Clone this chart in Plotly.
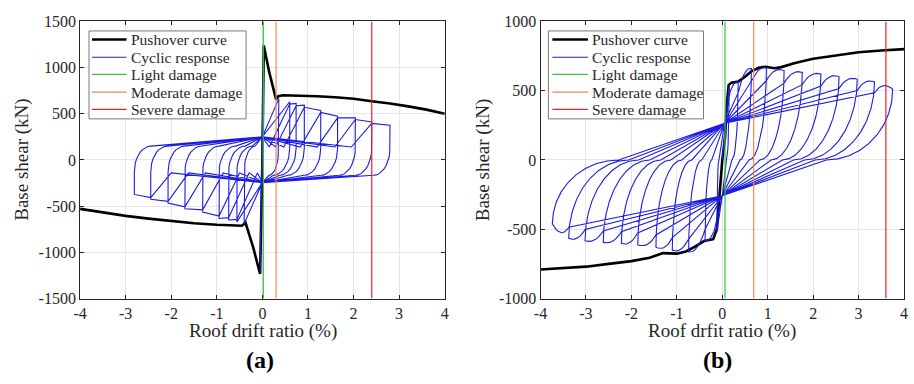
import numpy as np
import plotly.graph_objects as go

# ---------------- data ----------------
# (a) pushover curve
push_a_x = [-4.0, -3.5, -3.0, -2.5, -2.0, -1.5, -1.0, -0.55, -0.45, -0.37, -0.2, -0.05, 0.0,
            0.03, 0.15, 0.30, 0.35, 0.45, 0.8, 1.2, 1.6, 2.0, 2.4, 2.8, 3.2, 3.6, 4.0]
push_a_y = [-529, -570, -605, -635, -661, -685, -702, -716, -712, -680, -950, -1234, 0,
            1240, 950, 656, 690, 700, 698, 690, 678, 662, 635, 612, 580, 545, 500]
# (a) cyclic peaks
cyc_a_pos_x = [0.02, 0.03, 0.36, 0.60, 0.74, 0.92, 1.28, 1.65, 2.04, 2.40, 2.80]
cyc_a_pos_f = [700, 1240, 664, 630, 612, 594, 536, 474, 456, 412, 375]
cyc_a_neg_x = [-0.02, -0.05, -0.40, -0.56, -0.74, -0.95, -1.31, -1.70, -2.07, -2.45, -2.81]
cyc_a_neg_f = [-700, -1230, -690, -670, -650, -633, -563, -529, -467, -425, -373]
dmg_a = [0.02, 0.30, 2.40]

# (b) pushover curve
push_b_x = [-4.0, -3.5, -3.0, -2.5, -2.0, -1.6, -1.3, -1.0, -0.8, -0.6, -0.4, -0.2, -0.12, -0.06, 0.0,
            0.06, 0.10, 0.14, 0.2, 0.35, 0.5, 0.64, 0.8, 0.95, 1.15, 1.3, 1.6, 2.0, 2.5, 3.0, 3.5, 4.0]
push_b_y = [-790, -782, -770, -750, -730, -705, -672, -676, -660, -625, -585, -572, -500, -250, 0,
            160, 400, 540, 558, 565, 600, 640, 665, 673, 662, 670, 700, 730, 755, 777, 790, 800]
# (b) cyclic peaks
cyc_b_pos_x = [0.15, 0.35, 0.64, 0.97, 1.36, 1.76, 2.17, 2.57, 2.97, 3.35, 3.75]
cyc_b_pos_f = [540, 565, 660, 665, 645, 632, 620, 600, 582, 563, 510]
cyc_b_neg_x = [-0.12, -0.38, -0.74, -1.10, -1.46, -1.86, -2.22, -2.62, -3.02, -3.38, -3.74]
cyc_b_neg_f = [-520, -583, -664, -652, -629, -613, -602, -595, -583, -565, -461]
dmg_b = [0.06, 0.69, 3.60]

x_ticks = [-4, -3, -2, -1, 0, 1, 2, 3, 4]
x_ticktext = ["-4", "-3", "-2", "-1", "0", "1", "2", "3", "4"]
y_ticks_a = [-1500, -1000, -500, 0, 500, 1000, 1500]
y_ticktext_a = ["-1500", "-1000", "-500", "0", "500", "1000", "1500"]
y_ticks_b = [-1000, -500, 0, 500, 1000]
y_ticktext_b = ["-1000", "-500", "0", "500", "1000"]

legend_names = ["Pushover curve", "Cyclic response", "Light damage", "Moderate damage", "Severe damage"]

# ---------------- path helpers ----------------
def quarter(p0, p1, n=10):
    t = np.linspace(0, np.pi / 2, n)
    xs = p0[0] + (p1[0] - p0[0]) * (1 - np.cos(t))
    ys = p0[1] + (p1[1] - p0[1]) * np.sin(t)
    return list(zip(xs, ys))


def qbez(p0, c, p1, n=10):
    t = np.linspace(0, 1, n)
    xs = (1 - t) ** 2 * p0[0] + 2 * (1 - t) * t * c[0] + t ** 2 * p1[0]
    ys = (1 - t) ** 2 * p0[1] + 2 * (1 - t) * t * c[1] + t ** 2 * p1[1]
    return list(zip(xs, ys))


def cyclic_a():
    pts = [(0.0, 0.0)]
    n = len(cyc_a_pos_x)
    for i in range(n):
        xp, fp = cyc_a_pos_x[i], cyc_a_pos_f[i]
        xn, fn = cyc_a_neg_x[i], cyc_a_neg_f[i]
        if i < 2:
            pts += [(xp, fp), (xn, fn)]
            continue
        xpp, fpp = cyc_a_pos_x[i - 1], cyc_a_pos_f[i - 1]
        xnp, fnp = cyc_a_neg_x[i - 1], cyc_a_neg_f[i - 1]
        pts.append((0.0, 250))
        if xpp - 0.45 > 0.1:
            pts += [(xpp - 0.45, 140), (xpp, 0.96 * fpp)]
        pts.append((xp, fp))
        w = min(0.36, 0.6 * xp)
        pts.append((xp, 130))
        pts += quarter((xp, 130), (xp - w, -166))[1:]
        pts.append((0.0, -245))
        if xnp + 0.45 < -0.1:
            pts += [(xnp + 0.45, -140), (xnp, 0.96 * fnp)]
        pts.append((xn, fn))
        w = min(0.36, 0.6 * abs(xn))
        pts.append((xn, -130))
        pts += quarter((xn, -130), (xn + w, 150))[1:]
    pts.append((0.0, 250))
    return [p[0] for p in pts], [p[1] for p in pts]


def cyclic_b():
    pu = (0.05, 265)
    pl = (0.0, -258)
    pts = [(0.0, 0.0)]
    n = len(cyc_b_pos_x)
    for i in range(n):
        xp, fp = cyc_b_pos_x[i], cyc_b_pos_f[i]
        xn, fn = cyc_b_neg_x[i], cyc_b_neg_f[i]
        if i == 0:
            pts.append((xp, fp))
        else:
            xpp, fpp = cyc_b_pos_x[i - 1], cyc_b_pos_f[i - 1]
            r = (xpp, 0.86 * fpp)
            pts += [pu, r]
            c = (xpp + 0.45 * (xp - xpp), max(fp, fpp) * 1.02)
            pts += qbez(r, c, (xp, fp))[1:]
        u = (xp - 0.39 * xp, 0.0)
        pts += quarter((xp, fp), u)[1:]
        pts.append(pl)
        if i == 0:
            pts.append((xn, fn))
        else:
            xnp, fnp = cyc_b_neg_x[i - 1], cyc_b_neg_f[i - 1]
            r = (xnp, 0.86 * fnp)
            pts.append(r)
            c = (xnp + 0.45 * (xn - xnp), min(fn, fnp) * 1.02)
            pts += qbez(r, c, (xn, fn))[1:]
        u = (xn + 0.39 * abs(xn), 0.0)
        pts += quarter((xn, fn), u)[1:]
    pts.append(pu)
    return [p[0] for p in pts], [p[1] for p in pts]


# ---------------- figure ----------------
W, H = 914, 384
FONT = "Liberation Serif"
AX = "#262626"
BLUE = "#1c1ce0"
GREEN = "#3cc43c"
ORANGE = "#f4874e"
RED = "#e3262c"
line_styles = [dict(color="black", width=2.6), dict(color=BLUE, width=1.1),
               dict(color=GREEN, width=1.2), dict(color=ORANGE, width=1.2),
               dict(color=RED, width=1.2)]

fig = go.Figure()

ax_a, ay_a = cyclic_a()
bx_b, by_b = cyclic_b()

panels = [
    ("x", "y", push_a_x, push_a_y, ax_a, ay_a, dmg_a, (-1500, 1500)),
    ("x2", "y2", push_b_x, push_b_y, bx_b, by_b, dmg_b, (-1000, 1000)),
]
for xa, ya, px, py, cx, cy, dmg, yr in panels:
    fig.add_trace(go.Scatter(x=px, y=py, mode="lines", name=legend_names[0],
                             line=line_styles[0], xaxis=xa, yaxis=ya))
    fig.add_trace(go.Scatter(x=cx, y=cy, mode="lines", name=legend_names[1],
                             line=line_styles[1], xaxis=xa, yaxis=ya))
    for k in range(3):
        fig.add_trace(go.Scatter(x=[dmg[k], dmg[k]], y=[yr[0], yr[1]], mode="lines",
                                 name=legend_names[2 + k], line=line_styles[2 + k],
                                 xaxis=xa, yaxis=ya))


def px2x(p):
    return p / W


def px2y(p):
    return 1 - p / H


axis_common = dict(showline=True, linecolor=AX, linewidth=1, mirror="ticks",
                   ticks="inside", ticklen=4, tickcolor=AX, tickwidth=1,
                   showgrid=True, gridcolor="#e6e6e6", gridwidth=1, zeroline=False,
                   tickfont=dict(family=FONT, size=16, color=AX))

dom_y = [px2y(304), px2y(14)]
fig.update_layout(
    width=W, height=H,
    margin=dict(l=0, r=0, t=0, b=0),
    paper_bgcolor="white", plot_bgcolor="white",
    showlegend=False,
    xaxis=dict(domain=[px2x(74), px2x(443)], range=[-4, 4], tickvals=x_ticks,
               ticktext=x_ticktext, anchor="y", **axis_common),
    yaxis=dict(domain=dom_y, range=[-1500, 1500], tickvals=y_ticks_a,
               ticktext=y_ticktext_a, anchor="x", **axis_common),
    xaxis2=dict(domain=[px2x(540), px2x(908)], range=[-4, 4], tickvals=x_ticks,
                ticktext=x_ticktext, anchor="y2", **axis_common),
    yaxis2=dict(domain=dom_y, range=[-1000, 1000], tickvals=y_ticks_b,
                ticktext=y_ticktext_b, anchor="x2", **axis_common),
)

# legends drawn as boxes with line samples and text
row_y = [33, 51.5, 69.5, 88, 106]
for box_l, box_r, ln_l, ln_r, txt_l in [(83, 242, 86, 121, 123), (548, 705, 552, 588, 590)]:
    fig.add_shape(type="rect", xref="paper", yref="paper", layer="above",
                  x0=px2x(box_l), x1=px2x(box_r), y0=px2y(116), y1=px2y(24),
                  line=dict(color="#7a7a7a", width=1), fillcolor="white")
    for k in range(5):
        fig.add_shape(type="line", xref="paper", yref="paper", layer="above",
                      x0=px2x(ln_l), x1=px2x(ln_r), y0=px2y(row_y[k]), y1=px2y(row_y[k]),
                      line=line_styles[k])
        fig.add_annotation(text=legend_names[k], xref="paper", yref="paper",
                           x=px2x(txt_l), y=px2y(row_y[k]), xanchor="left", yanchor="middle",
                           showarrow=False, font=dict(family=FONT, size=15.5, color=AX))

ann_font = dict(family=FONT, size=19, color=AX)
anns = [
    dict(text="Roof drift ratio (%)", x=px2x(259), y=px2y(338)),
    dict(text="Roof drfit ratio (%)", x=px2x(724), y=px2y(338)),
    dict(text="Base shear (kN)", x=px2x(15), y=px2y(159), textangle=-90),
    dict(text="Base shear (kN)", x=px2x(482), y=px2y(159), textangle=-90),
]
for a in anns:
    fig.add_annotation(xref="paper", yref="paper", showarrow=False,
                       xanchor="center", yanchor="middle", font=ann_font, **a)
for t, xc in [("<b>(a)</b>", 256), ("<b>(b)</b>", 719)]:
    fig.add_annotation(text=t, xref="paper", yref="paper", x=px2x(xc), y=px2y(368),
                       showarrow=False, xanchor="center", yanchor="middle",
                       font=dict(family=FONT, size=24, color="black"))

fig.write_html("out.html")
